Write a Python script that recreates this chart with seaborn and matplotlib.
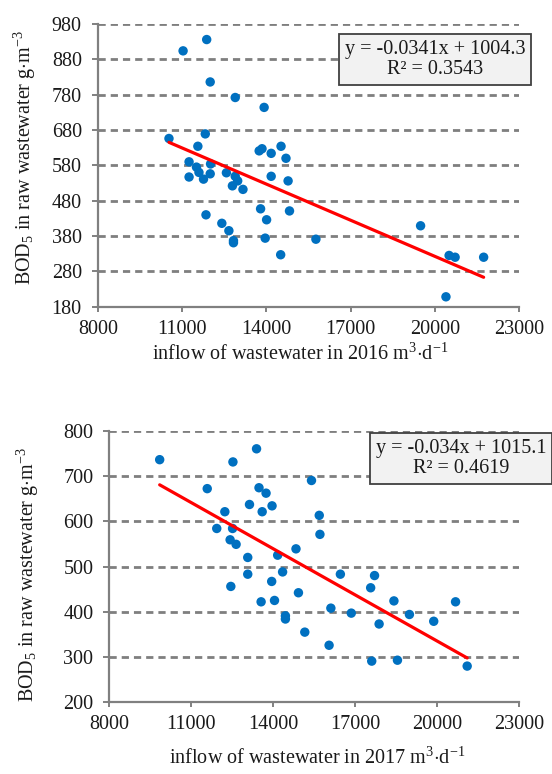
import numpy as np
import pandas as pd
import matplotlib
matplotlib.use('Agg')
import matplotlib.pyplot as plt
import seaborn as sns

# === Data
inflow_2016 = [10533, 11035, 11875, 12000, 12891, 13919, 11825, 11561, 11248, 11248,
               11511, 11600, 11762, 12013, 12000, 12577, 12790, 12891, 12978, 13166,
               11850, 12414, 12665, 12828, 12828, 13743, 13844, 14170, 14521, 14697,
               14170, 14772, 14822, 13793, 14007, 13957, 14508, 15762, 19487, 20502,
               20716, 21731, 20390]
bod_2016 = [656, 904, 936, 816, 772, 744, 669, 634, 590, 547,
            575, 560, 541, 584, 556, 559, 522, 549, 536, 512,
            440, 416, 395, 367, 361, 621, 627, 614, 634, 600,
            549, 536, 451, 457, 426, 374, 327, 371, 409, 325,
            320, 320, 208]

inflow_2017 = [9843, 11583, 11931, 12227, 12420, 12510, 12523, 12639, 12446, 13065,
               13065, 13129, 13387, 13477, 13593, 13735, 13954, 13554, 13941, 14044,
               14160, 14340, 14443, 14443, 14830, 14920, 15152, 15397, 15681, 15706,
               16041, 16106, 16454, 16853, 17562, 17704, 17601, 17871, 18413, 18542,
               18980, 19869, 20668, 21093]
bod_2017 = [736, 672, 584, 621, 559, 584, 731, 549, 456, 520,
            483, 637, 760, 674, 621, 662, 634, 422, 467, 425,
            525, 488, 391, 384, 539, 442, 355, 690, 613, 571,
            326, 408, 483, 397, 453, 480, 291, 373, 424, 293,
            394, 379, 422, 280]

# trend line equations printed on the chart: slope, intercept, R2
fit_2016 = (-0.0341, 1004.3, 0.3543)
fit_2017 = (-0.034, 1015.1, 0.4619)
eq_2016 = "y = -0.0341x + 1004.3\nR\u00b2 = 0.3543"
eq_2017 = "y = -0.034x + 1015.1\nR\u00b2 = 0.4619"

x_ticks = [8000, 11000, 14000, 17000, 20000, 23000]
y_ticks_2016 = [180, 280, 380, 480, 580, 680, 780, 880, 980]
y_ticks_2017 = [200, 300, 400, 500, 600, 700, 800]

# === Style
sns.set_style('white')
plt.rcParams['font.family'] = ['Liberation Serif', 'DejaVu Serif']
plt.rcParams['mathtext.fontset'] = 'custom'
plt.rcParams['mathtext.rm'] = 'Liberation Serif'
plt.rcParams['mathtext.it'] = 'Liberation Serif:italic'
plt.rcParams['mathtext.bf'] = 'Liberation Serif:bold'

FS = 14.5
TXT = '#1a1a1a'
GRAY = '#808080'
W, H = 552, 774

fig = plt.figure(figsize=(W / 100, H / 100), dpi=100)


def draw_panel(rect, x, y, fit, eq, yticks, year, ylab_xy, xlab_xy, box_xy):
    ax = fig.add_axes(rect)
    df = pd.DataFrame({'inflow': x, 'bod': y})
    slope, icpt, _ = fit
    xs = np.array([df['inflow'].min(), df['inflow'].max()])
    line = pd.DataFrame({'inflow': xs, 'bod': slope * xs + icpt})

    ax.set_ylim(yticks[0], yticks[-1])
    ax.set_xlim(x_ticks[0], x_ticks[-1])
    ax.set_yticks(yticks)
    ax.set_xticks(x_ticks)
    for t in yticks[1:]:
        ax.axhline(t, color='#7f7f7f', lw=2.0, dashes=(2.6, 1.8), zorder=1)

    sns.scatterplot(data=df, x='inflow', y='bod', ax=ax, color='#0070C0',
                    s=46, edgecolor='none', zorder=3, legend=False)
    sns.lineplot(data=line, x='inflow', y='bod', ax=ax, color='#FF0000',
                 lw=2.3, zorder=4)

    for side in ['top', 'right']:
        ax.spines[side].set_visible(False)
    for side in ['left', 'bottom']:
        ax.spines[side].set_color(GRAY)
        ax.spines[side].set_linewidth(1.6)
    ax.tick_params(axis='y', direction='out', length=4.5, width=1.4, color=GRAY,
                   labelsize=FS, labelcolor=TXT, pad=7, left=True)
    ax.tick_params(axis='x', direction='out', length=3.5, width=1.4, color=GRAY,
                   labelsize=FS, labelcolor=TXT, pad=6, bottom=True)

    ax.set_ylabel(r'BOD$_5$ in raw wastewater g$\cdot$m$^{\mathrm{-3}}$', fontsize=FS,
                  color=TXT, va='center')
    ax.yaxis.set_label_coords(*ylab_xy)
    ax.set_xlabel('inflow of wastewater in ' + str(year) + r' m$^3$$\cdot$d$^{\mathrm{-1}}$',
                  fontsize=FS, color=TXT, va='center')
    ax.xaxis.set_label_coords(*xlab_xy)

    fig.text(box_xy[0] / W, 1 - box_xy[1] / H, eq, ha='center', va='center',
             fontsize=FS, color=TXT, linespacing=1.05,
             bbox=dict(boxstyle='square,pad=0.3', facecolor='#f2f2f2',
                       edgecolor='#404040', linewidth=1.3))
    return ax


# top panel (2016)
draw_panel([97.8 / W, 1 - 306.7 / H, 421.5 / W, 282.7 / H],
           inflow_2016, bod_2016, fit_2016, eq_2016, y_ticks_2016, 2016,
           (-0.173, 0.528), (0.48, -0.168), (435, 59.5))

# bottom panel (2017)
draw_panel([109.3 / W, 1 - 702.3 / H, 410 / W, 271.6 / H],
           inflow_2017, bod_2017, fit_2017, eq_2017, y_ticks_2017, 2017,
           (-0.198, 0.47), (0.507, -0.205), (461, 458.4))

fig.savefig('out.png', dpi=100)
